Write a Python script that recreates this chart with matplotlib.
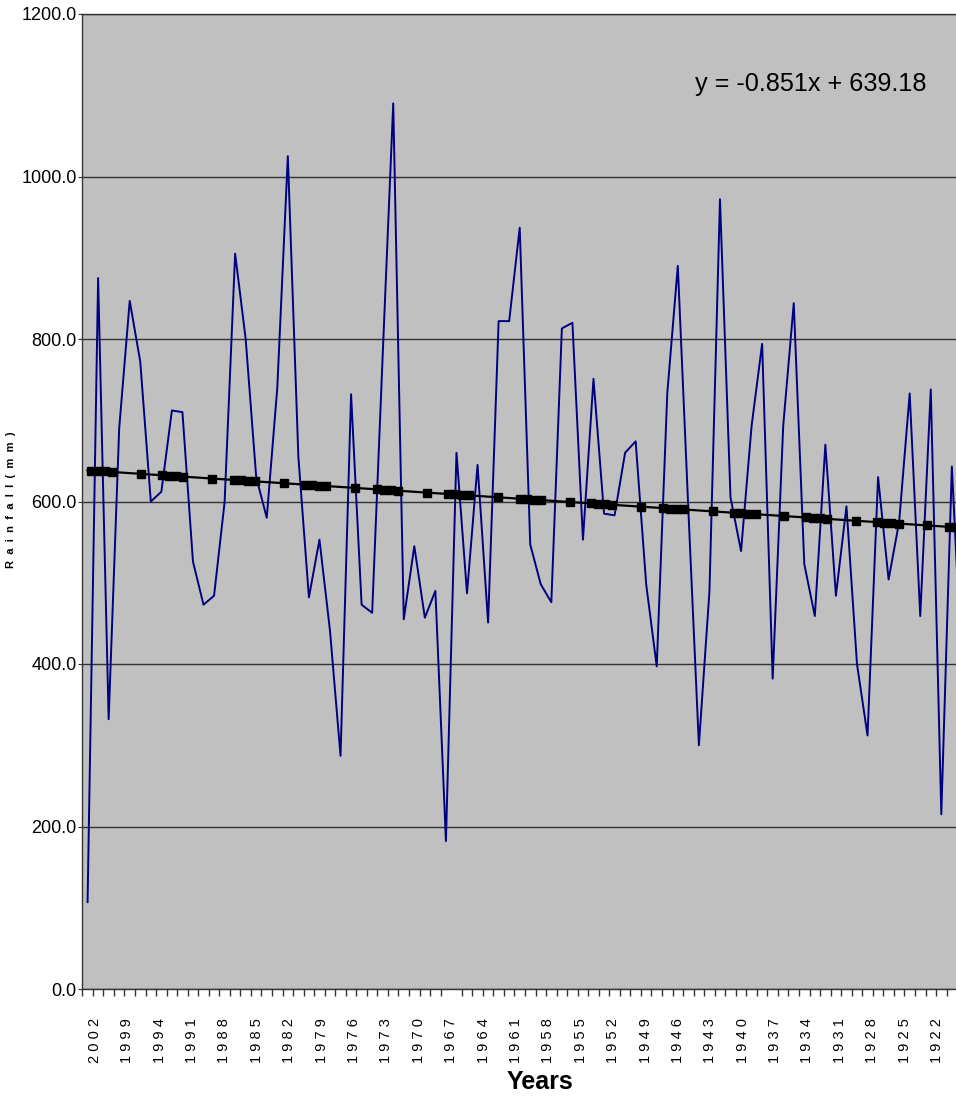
import numpy as np
import matplotlib
matplotlib.use("Agg")
import matplotlib.pyplot as plt

plt.rcParams['font.family'] = ['Liberation Sans', 'DejaVu Sans']

# --- data ---
# category years (two years are missing after 1999 in the source series)
YEARS = [2002, 2001, 2000, 1999, 1998, 1997] + list(range(1994, 1916, -1))

RAINFALL = [107, 875, 332, 690, 847, 772, 600, 612, 712, 710,
            526, 473, 484, 599, 905, 800, 630, 580, 740, 1025,
            655, 482, 553, 441, 287, 732, 473, 463, 780, 1090,
            455, 545, 457, 490, 182, 660, 487, 645, 451, 822,
            822, 937, 547, 498, 476, 813, 820, 553, 751, 585,
            583, 660, 674, 498, 397, 733, 890, 590, 300, 489,
            972, 605, 539, 693, 794, 382, 693, 844, 523, 459,
            670, 484, 594, 400, 312, 630, 504, 575, 733, 459,
            738, 215, 643, 380]

# linear trend as printed on the chart (x = 1, 2, 3, ...)
TREND_SLOPE = -0.851
TREND_INTERCEPT = 639.18

Y_TICKS = [0, 200, 400, 600, 800, 1000, 1200]

# --- figure ---
W, H = 956, 1099
fig = plt.figure(figsize=(W / 100, H / 100), dpi=100)
ax = fig.add_axes([82.3 / W, (H - 989) / H, 1 - 82.3 / W, (989 - 14) / H])
ax.set_facecolor('#C0C0C0')

idx = np.arange(len(RAINFALL))
ax.plot(idx, RAINFALL, color='#000080', lw=1.4, zorder=3)

# trend line with its (aliased) square markers
xt = np.linspace(0, len(RAINFALL) - 1, 400)
ax.plot(xt, TREND_SLOPE * (xt + 1) + TREND_INTERCEPT, color='black', lw=1.6, zorder=4)
step = 0.6784
k = np.arange(0, 130)
k = k[np.isin(k % 10, [0, 1, 2, 3, 7])]
xm = 0.28 + step * k
ax.plot(xm, TREND_SLOPE * (xm + 1) + TREND_INTERCEPT, ls='none', marker='s',
        ms=5.5, color='black', zorder=5)

# y axis
ax.set_yticks(Y_TICKS)
ax.set_yticklabels([f'{v:.1f}' for v in Y_TICKS], fontsize=13)
ax.tick_params(axis='y', length=3, pad=1, color='#333333')
ax.grid(axis='y', color='#333333', lw=1.0, zorder=1)
ax.set_axisbelow(True)

# x axis: small ticks at category boundaries, labels every third year
ax.set_xticks(np.arange(-0.5, len(RAINFALL)), minor=True)
lab_years = YEARS[::3][:27]
lab_pos = np.linspace(0.70, 80.59, len(lab_years))
ax.set_xticks(lab_pos)
ax.set_xticklabels([' '.join(str(y)) for y in lab_years], rotation=90, fontsize=10.5)
ax.tick_params(axis='x', which='major', length=0, pad=21)
ax.tick_params(axis='x', which='minor', length=5, width=1, color='#333333')

# limits set after the ticks so they are not widened
ax.set_xlim(-0.5, (956 - 82.3) / 10.54 - 0.5)
ax.set_ylim(0, 1200)

for side in ['left', 'bottom', 'top']:
    ax.spines[side].set_color('#333333')
    ax.spines[side].set_linewidth(1.0)
ax.spines['right'].set_visible(False)

fig.text(695 / W, 1 - 84 / H, 'y = -0.851x + 639.18', fontsize=18.2,
         ha='left', va='center')
fig.text(540 / W, 1 - 1082 / H, 'Years', fontsize=18, fontweight='bold',
         ha='center', va='center')
fig.text(11 / W, 1 - 500 / H, '  '.join('Rainfall') + '  ' + '  '.join('(mm)'),
         fontsize=8, fontweight='bold', rotation=90, ha='center', va='center')

fig.savefig('out.png', dpi=100)
